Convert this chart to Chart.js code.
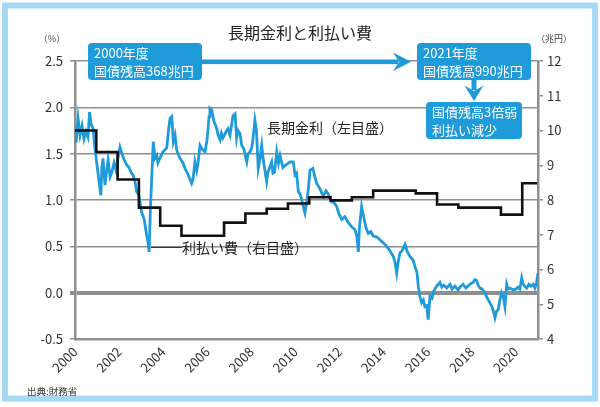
<!DOCTYPE html>
<html lang="ja">
  <head>
    <meta charset="UTF-8" />
    <title>長期金利と利払い費</title>
    <script src="https://cdn.jsdelivr.net/npm/chart.js@4"></script>
    <style>
      html, body { margin: 0; padding: 0; background: #fff; }
      .chart-box { width: 600px; height: 407px; position: relative; }
    </style>
  </head>
  <body>
    <div class="chart-box"><canvas id="rateChart"></canvas></div>

    <script>
      // 長期金利 (10年国債利回り, %)
      const yieldYears = [
        2000.00, 2000.05, 2000.14, 2000.23, 2000.32, 2000.41, 2000.50, 2000.59, 2000.66, 2000.73, 2000.82, 2000.91, 2000.98,
        2001.04, 2001.17, 2001.22, 2001.27, 2001.36, 2001.43, 2001.50, 2001.59, 2001.66, 2001.77, 2001.86, 2001.95,
        2002.04, 2002.13, 2002.22, 2002.34, 2002.45, 2002.54, 2002.63, 2002.72, 2002.80, 2002.90,
        2003.02, 2003.13, 2003.25, 2003.31, 2003.36, 2003.42, 2003.48, 2003.55, 2003.63, 2003.71, 2003.76, 2003.85, 2003.99,
        2004.16, 2004.24, 2004.31, 2004.39, 2004.46, 2004.54, 2004.61, 2004.76, 2004.90, 2004.99,
        2005.12, 2005.29, 2005.35, 2005.44, 2005.52, 2005.58, 2005.67, 2005.76, 2005.90, 2005.99,
        2006.08, 2006.12, 2006.21, 2006.30, 2006.43, 2006.49, 2006.58, 2006.64, 2006.71, 2006.88, 2006.94,
        2007.03, 2007.17, 2007.26, 2007.33, 2007.39, 2007.48, 2007.56, 2007.66, 2007.79, 2007.85, 2007.94,
        2008.01, 2008.07, 2008.16, 2008.23, 2008.31, 2008.39, 2008.47, 2008.53, 2008.69, 2008.75, 2008.92, 2008.98,
        2009.05, 2009.15, 2009.23, 2009.30, 2009.43, 2009.57, 2009.75, 2009.90, 2009.98,
        2010.05, 2010.13, 2010.20, 2010.29, 2010.35, 2010.43, 2010.52, 2010.58, 2010.66, 2010.79, 2010.88, 2010.96,
        2011.11, 2011.26, 2011.38, 2011.47, 2011.56, 2011.64, 2011.75, 2011.87, 2011.97,
        2012.10, 2012.24, 2012.38, 2012.55, 2012.70, 2012.79, 2012.85, 2012.90,
        2013.00, 2013.11, 2013.20, 2013.30, 2013.42, 2013.53, 2013.70, 2013.83, 2013.97,
        2014.14, 2014.29, 2014.44, 2014.51, 2014.59, 2014.65, 2014.74, 2014.83, 2014.97,
        2015.06, 2015.19, 2015.34, 2015.42, 2015.51, 2015.57, 2015.65, 2015.72, 2015.80, 2015.87, 2015.95,
        2016.02, 2016.10, 2016.19, 2016.28, 2016.40, 2016.48, 2016.55, 2016.64, 2016.73, 2016.86,
        2017.01, 2017.10, 2017.23, 2017.37, 2017.46, 2017.60, 2017.73, 2017.87, 2017.96,
        2018.06, 2018.14, 2018.22, 2018.28, 2018.37, 2018.46, 2018.59, 2018.68, 2018.82, 2018.91,
        2019.00, 2019.05, 2019.12, 2019.20, 2019.27, 2019.35, 2019.42, 2019.50, 2019.58, 2019.64, 2019.73, 2019.88,
        2020.00, 2020.09, 2020.18, 2020.26, 2020.32, 2020.39, 2020.49, 2020.59, 2020.68, 2020.79, 2020.86, 2020.93, 2021.00,
      ];
      const yieldValues = [
        1.73, 1.62, 1.88, 1.70, 1.80, 1.66, 1.74, 1.68, 1.95, 1.82, 1.77, 1.55, 1.41,
        1.30, 1.05, 1.35, 1.45, 1.16, 1.30, 1.43, 1.25, 1.29, 1.40, 1.32, 1.45,
        1.57, 1.50, 1.44, 1.38, 1.35, 1.30, 1.27, 1.20, 1.09, 1.05,
        0.87, 0.80, 0.62, 0.55, 0.44, 0.90, 1.24, 1.63, 1.45, 1.48, 1.40, 1.45, 1.52,
        1.56, 1.75, 1.88, 1.90, 1.63, 1.70, 1.54, 1.45, 1.40, 1.34,
        1.28, 1.18, 1.22, 1.41, 1.32, 1.40, 1.59, 1.55, 1.52, 1.65,
        1.90, 1.99, 1.97, 1.85, 1.77, 1.70, 1.65, 1.72, 1.67, 1.75, 1.77,
        1.70, 1.91, 1.93, 1.67, 1.75, 1.72, 1.59, 1.55, 1.41, 1.50, 1.52,
        1.56, 1.65, 1.86, 1.75, 1.34, 1.45, 1.59, 1.45, 1.20, 1.30, 1.41, 1.29,
        1.30, 1.52, 1.40, 1.48, 1.35, 1.38, 1.41, 1.41, 1.27,
        1.29, 1.09, 1.07, 1.00, 0.93, 0.86, 1.00, 1.11, 1.32, 1.34, 1.25, 1.18,
        1.12, 1.04, 1.10, 1.07, 1.02, 0.98, 0.97, 0.93, 0.85,
        0.79, 0.82, 0.76, 0.71, 0.68, 0.60, 0.44, 0.70,
        0.93, 0.80, 0.70, 0.64, 0.66, 0.61, 0.60, 0.57, 0.54,
        0.50, 0.45, 0.39, 0.33, 0.21, 0.32, 0.43, 0.45, 0.52,
        0.45, 0.39, 0.35, 0.28, 0.22, 0.07, -0.05, -0.11, -0.08, -0.15, -0.14,
        -0.29, -0.04, -0.06, 0.02, 0.07, 0.09, 0.11, 0.06, 0.08, 0.05,
        0.09, 0.04, 0.07, 0.03, 0.06, 0.09, 0.05, 0.08, 0.10,
        0.11, 0.14, 0.13, 0.08, 0.05, 0.04, 0.00, -0.05, -0.11, -0.15,
        -0.22, -0.27, -0.20, -0.18, -0.08, 0.00, -0.04, -0.15, 0.09, 0.04, 0.05, 0.03,
        0.04, 0.06, 0.04, 0.16, 0.10, 0.07, 0.05, 0.09, 0.07, 0.09, 0.05, 0.10, 0.21,
      ];

      // 利払い費 (兆円) per fiscal year, FY2000 .. FY2021
      const payValues = [
        10.0, 9.38, 8.59, 7.78, 7.26, 6.97, 6.97, 7.35, 7.61, 7.75, 7.90,
        8.08, 7.99, 8.08, 8.27, 8.27, 8.19, 7.87, 7.78, 7.78, 7.58, 8.48,
      ];
      const payEnd = 21.7; // last fiscal year is only partly shown

      const xTicks = [2000, 2002, 2004, 2006, 2008, 2010, 2012, 2014, 2016, 2018, 2020];
      const leftTicks = [-0.5, 0.0, 0.5, 1.0, 1.5, 2.0, 2.5];
      const rightTicks = [4, 5, 6, 7, 8, 9, 10, 11, 12];

      const FONT = '"Noto Sans CJK JP", "Noto Sans", sans-serif';
      const BLUE = "#1f9bd9";
      const GRID = "#8f8f8f";

      const yieldPoints = yieldYears.map((x, i) => ({ x: x, y: yieldValues[i] }));
      const payPoints = payValues.map((v, i) => ({ x: i, y: v }));
      payPoints.push({ x: payEnd, y: payValues[payValues.length - 1] });

      function roundBox(ctx, x, y, w, h, r) {
        ctx.beginPath();
        ctx.moveTo(x + r, y);
        ctx.arcTo(x + w, y, x + w, y + h, r);
        ctx.arcTo(x + w, y + h, x, y + h, r);
        ctx.arcTo(x, y + h, x, y, r);
        ctx.arcTo(x, y, x + w, y, r);
        ctx.closePath();
        ctx.fill();
      }

      function noteBox(ctx, x, y, w, h, lines) {
        ctx.fillStyle = BLUE;
        roundBox(ctx, x, y, w, h, 4);
        ctx.fillStyle = "#fff";
        ctx.font = "13px " + FONT;
        ctx.textAlign = "left";
        ctx.textBaseline = "middle";
        ctx.fillText(lines[0], x + 6, y + 10);
        ctx.fillText(lines[1], x + 6, y + 28);
      }

      // frame, title, notes and arrows
      const decorations = {
        id: "decorations",
        beforeDraw(chart) {
          const ctx = chart.ctx;
          ctx.save();
          ctx.fillStyle = "#fff";
          ctx.fillRect(0, 0, chart.width, chart.height);
          ctx.strokeStyle = "#a8d9f3";
          ctx.lineWidth = 6;
          ctx.strokeRect(5, 5.5, chart.width - 10, chart.height - 14);
          ctx.restore();
        },
        afterDraw(chart) {
          const ctx = chart.ctx;
          ctx.save();

          ctx.fillStyle = "#222";
          ctx.font = "16px " + FONT;
          ctx.textAlign = "center";
          ctx.textBaseline = "middle";
          ctx.fillText("長期金利と利払い費", 300, 33);

          ctx.fillStyle = "#444";
          ctx.font = "9px " + FONT;
          ctx.fillText("（%）", 52, 39);
          ctx.textAlign = "left";
          ctx.fillText("（兆円）", 536, 39);

          ctx.fillStyle = "#222";
          ctx.font = "14px " + FONT;
          ctx.fillText("長期金利（左目盛）", 267, 128);
          ctx.fillText("利払い費（右目盛）", 182, 248);

          ctx.strokeStyle = "#333";
          ctx.lineWidth = 1;
          ctx.beginPath();
          ctx.moveTo(151, 247.5);
          ctx.lineTo(182, 247.5);
          ctx.stroke();

          // right arrow
          ctx.fillStyle = BLUE;
          ctx.fillRect(200, 59.5, 198, 4.6);
          ctx.beginPath();
          ctx.moveTo(411, 61.8);
          ctx.lineTo(393, 52.5);
          ctx.lineTo(399, 61.8);
          ctx.lineTo(393, 71);
          ctx.closePath();
          ctx.fill();

          // down arrow
          ctx.fillRect(471.5, 79, 5, 11);
          ctx.beginPath();
          ctx.moveTo(474, 101);
          ctx.lineTo(464.5, 85.5);
          ctx.lineTo(474, 91);
          ctx.lineTo(483.5, 85.5);
          ctx.closePath();
          ctx.fill();

          noteBox(ctx, 88, 43, 114, 37, ["2000年度", "国債残高368兆円"]);
          noteBox(ctx, 417, 43, 114, 37, ["2021年度", "国債残高990兆円"]);
          noteBox(ctx, 426, 102, 96, 37, ["国債残高3倍弱", "利払い減少"]);

          ctx.fillStyle = "#333";
          ctx.font = "9.5px " + FONT;
          ctx.textAlign = "left";
          ctx.fillText("出典:財務省", 27, 391);

          ctx.restore();
        },
      };

      const ctxRate = document.getElementById("rateChart").getContext("2d");
      const rateChart = new Chart(ctxRate, {
        type: "line",
        data: {
          datasets: [
            {
              label: "利払い費",
              data: payPoints,
              xAxisID: "xf",
              yAxisID: "y2",
              stepped: "before",
              borderColor: "#111",
              borderWidth: 2.6,
              pointRadius: 0,
              order: 0,
            },
            {
              label: "長期金利",
              data: yieldPoints,
              xAxisID: "x",
              yAxisID: "y",
              borderColor: BLUE,
              borderWidth: 2.8,
              pointRadius: 0,
              tension: 0,
              order: 1,
            },
          ],
        },
        options: {
          responsive: true,
          maintainAspectRatio: false,
          animation: false,
          layout: { padding: { top: 61, left: 0, right: 0, bottom: 0 } },
          plugins: {
            legend: { display: false },
            tooltip: { enabled: false },
          },
          scales: {
            x: {
              type: "linear",
              position: "bottom",
              min: 2000,
              max: 2021,
              afterBuildTicks: (axis) => {
                axis.ticks = xTicks.map((v) => ({ value: v }));
              },
              afterFit: (axis) => { axis.height = 68; },
              grid: { display: false, drawTicks: false },
              border: { display: true, color: GRID, width: 2.5 },
              ticks: {
                autoSkip: false,
                maxRotation: 45,
                minRotation: 45,
                padding: 5,
                color: "#333",
                font: { family: FONT, size: 13 },
                callback: (v) => String(v),
              },
            },
            xf: {
              type: "linear",
              display: false,
              min: 0,
              max: 21.74,
            },
            y: {
              position: "left",
              min: -0.5,
              max: 2.5,
              afterBuildTicks: (axis) => {
                axis.ticks = leftTicks.map((v) => ({ value: v }));
              },
              afterFit: (axis) => { axis.width = 75; },
              grid: {
                color: GRID,
                lineWidth: (c) => (c.tick && c.tick.value === 0 ? 4 : 1.5),
                tickLength: 5,
              },
              border: { display: true, color: GRID, width: 2.5 },
              ticks: {
                padding: 7,
                color: "#333",
                font: { family: FONT, size: 13 },
                callback: (v) => Number(v).toFixed(1),
              },
            },
            y2: {
              position: "right",
              min: 4,
              max: 12,
              afterBuildTicks: (axis) => {
                axis.ticks = rightTicks.map((v) => ({ value: v }));
              },
              afterFit: (axis) => { axis.width = 62; },
              grid: { drawOnChartArea: false, color: GRID, lineWidth: 1.5, tickLength: 5 },
              border: { display: true, color: GRID, width: 2.5 },
              ticks: {
                padding: 4,
                color: "#333",
                font: { family: FONT, size: 13 },
              },
            },
          },
        },
        plugins: [decorations],
      });
    </script>
  </body>
</html>
